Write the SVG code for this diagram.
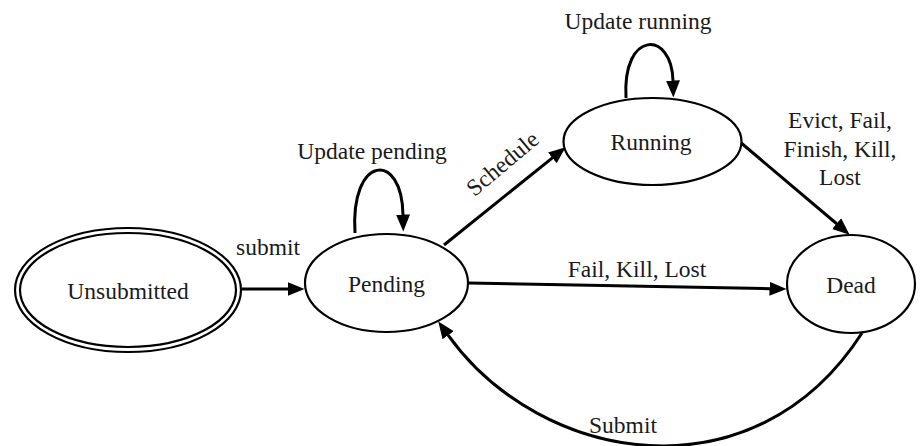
<svg xmlns="http://www.w3.org/2000/svg" width="920" height="446" viewBox="0 0 920 446">
<style>
.node{fill:#fff;stroke:#000;stroke-width:2.2}
.edge{fill:none;stroke:#000;stroke-width:3}
.t{font-size:23.5px;fill:#1a1a1a;text-anchor:middle}
</style>
<defs>
<marker id="arr" markerUnits="userSpaceOnUse" markerWidth="18" markerHeight="16" viewBox="0 0 18 16" refX="0.5" refY="8" orient="auto">
<path d="M0,1 L17,8 L0,15 z" fill="#000"/>
</marker>
</defs>
<rect width="920" height="446" fill="#fff"/>
<g id="connectors">
<path class="edge" marker-end="url(#arr)" d="M242,289 L288,289"/>
<path class="edge" marker-end="url(#arr)" d="M355,233 C350,155 402,150 403,215"/>
<path class="edge" marker-end="url(#arr)" d="M626,98 C622,30 672,30 673,81"/>
<path class="edge" marker-end="url(#arr)" d="M444,245 L552.7,157.6"/>
<path class="edge" marker-end="url(#arr)" d="M740,142 L837,224"/>
<path class="edge" marker-end="url(#arr)" d="M468,283 L770,288.7"/>
<path class="edge" marker-end="url(#arr)" d="M862,333 C754,501 540.7,464.4 447.9,334.8"/>
</g>
<g font-family="Liberation Serif, Times New Roman, serif">
<g id="labels">
<text class="t" x="268" y="255">submit</text>
<text class="t" x="372" y="159">Update pending</text>
<text class="t" x="638" y="29">Update running</text>
<text class="t" transform="translate(507.6,169.5) rotate(-40)">Schedule</text>
<text class="t" x="637" y="277">Fail, Kill, Lost</text>
<text class="t" x="840" y="128">Evict, Fail,</text>
<text class="t" x="840" y="157">Finish, Kill,</text>
<text class="t" x="840" y="185">Lost</text>
<text class="t" x="623" y="433">Submit</text>
</g>
<g id="unsubmitted">
<ellipse class="node" cx="128" cy="290" rx="113" ry="62"/>
<ellipse class="node" cx="128" cy="290" rx="108" ry="57"/>
<text class="t" x="128" y="299">Unsubmitted</text>
</g>
<g id="pending">
<ellipse class="node" cx="386.5" cy="283" rx="81.5" ry="49"/>
<text class="t" x="386.5" y="292">Pending</text>
</g>
<g id="running">
<ellipse class="node" cx="652.5" cy="141.5" rx="89" ry="43.5"/>
<text class="t" x="651" y="150">Running</text>
</g>
<g id="dead">
<ellipse class="node" cx="851" cy="284" rx="64" ry="49"/>
<text class="t" x="851" y="293">Dead</text>
</g>
</g>
</svg>
